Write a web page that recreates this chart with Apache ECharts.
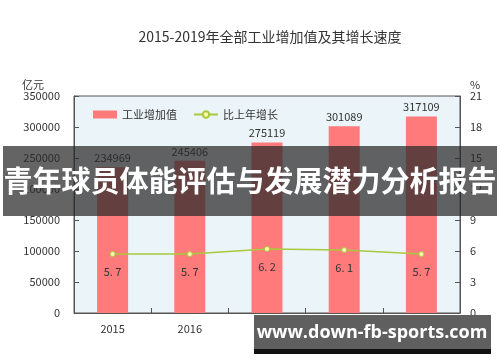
<!DOCTYPE html>
<html><head><meta charset="utf-8">
<script src="https://cdn.jsdelivr.net/npm/echarts@6/dist/echarts.min.js"></script>
<style>html,body{margin:0;padding:0;background:#fff}#c{width:500px;height:362px}</style>
</head><body><div id="c"></div>
<script>
var categories = ['2015', '2016', '2017', '2018', '2019'];
var valueAdded = [234969, 245406, 275119, 301089, 317109];
var growthRate = [5.7, 5.7, 6.2, 6.1, 5.7];
var leftTicks = [0, 350000, 50000];
var rightTicks = [0, 21, 3];
var titleText = '2015-2019年全部工业增加值及其增长速度';
var bannerText = '青年球员体能评估与发展潜力分析报告';
var watermarkText = 'www.down-fb-sports.com';

var chart = echarts.init(document.getElementById('c'));
var f = '"Noto Sans CJK SC", "DejaVu Sans", sans-serif';
chart.setOption({
  animation: false,
  textStyle: {fontFamily: f},
  title: {text: titleText, left: 265, textAlign: 'center', top: 25,
    textStyle: {fontSize: 14, fontWeight: 'normal', color: '#333', fontFamily: f}},
  legend: {
    left: 88, top: 104, itemGap: 16, itemWidth: 24, itemHeight: 8,
    textStyle: {fontSize: 11, color: '#333'},
    data: [{name: '工业增加值', icon: 'rect'}, {name: '比上年增长'}]
  },
  grid: {left: 74, right: 40, top: 96, bottom: 49, show: true,
    backgroundColor: '#EBF4F9', borderColor: '#555', borderWidth: 1},
  xAxis: {type: 'category', data: categories,
    axisLine: {lineStyle: {color: '#555'}},
    axisTick: {show: true, inside: true, alignWithLabel: false, lineStyle: {color: '#555'}},
    axisLabel: {color: '#333', fontSize: 11, margin: 10}},
  yAxis: [
    {type: 'value', min: leftTicks[0], max: leftTicks[1], interval: leftTicks[2],
      name: '亿元', nameLocation: 'end', nameGap: 6,
      nameTextStyle: {color: '#333', fontSize: 11, align: 'right', padding: [0, 30, 0, 0]},
      axisLine: {show: true, lineStyle: {color: '#555'}},
      axisTick: {show: true, inside: true, lineStyle: {color: '#555'}},
      splitLine: {show: false},
      axisLabel: {color: '#333', fontSize: 11, margin: 14, formatter: function (v) { return String(v); }}},
    {type: 'value', min: rightTicks[0], max: rightTicks[1], interval: rightTicks[2],
      name: '%', nameLocation: 'end', nameGap: 6,
      nameTextStyle: {color: '#333', fontSize: 11, align: 'left', padding: [0, 0, 0, 10]},
      axisLine: {show: true, lineStyle: {color: '#555'}},
      axisTick: {show: true, inside: true, lineStyle: {color: '#555'}},
      splitLine: {show: false},
      axisLabel: {color: '#333', fontSize: 11, margin: 10}}
  ],
  series: [
    {name: '工业增加值', type: 'bar', data: valueAdded, barWidth: 31,
      itemStyle: {color: '#FF7B7B'},
      label: {show: true, position: 'top', color: '#333', fontSize: 11, distance: 4,
        formatter: function (p) { return String(p.value); }}},
    {name: '比上年增长', type: 'line', yAxisIndex: 1, data: growthRate,
      symbol: 'circle', symbolSize: 5,
      lineStyle: {color: '#A9C93C', width: 1.5},
      itemStyle: {color: '#FFF6B0', borderColor: '#A9C93C', borderWidth: 1},
      label: {show: true, position: 'bottom', distance: 9, color: '#333', fontSize: 11,
        formatter: function (p) { return String(p.value).replace('.', '. '); }}}
  ],
  graphic: [
    {type: 'rect', z: 100, shape: {x: 3, y: 146, width: 494, height: 70},
      style: {fill: 'rgba(40,40,40,0.72)'}},
    {type: 'text', z: 101, x: 250, y: 181,
      style: {text: bannerText, fill: '#fff', font: 'bold 29px "Noto Sans CJK SC", sans-serif',
        textAlign: 'center', textVerticalAlign: 'middle'}},
    {type: 'rect', z: 100, shape: {x: 254, y: 315, width: 237, height: 34},
      style: {fill: '#5f5f5f'}},
    {type: 'rect', z: 100, shape: {x: 254, y: 349, width: 237, height: 5},
      style: {fill: '#111'}},
    {type: 'text', z: 101, x: 372, y: 333,
      style: {text: watermarkText, fill: '#fff', font: 'bold 18px "Open Sans", "DejaVu Sans", sans-serif',
        textAlign: 'center', textVerticalAlign: 'middle'}}
  ]
});
</script></body></html>
